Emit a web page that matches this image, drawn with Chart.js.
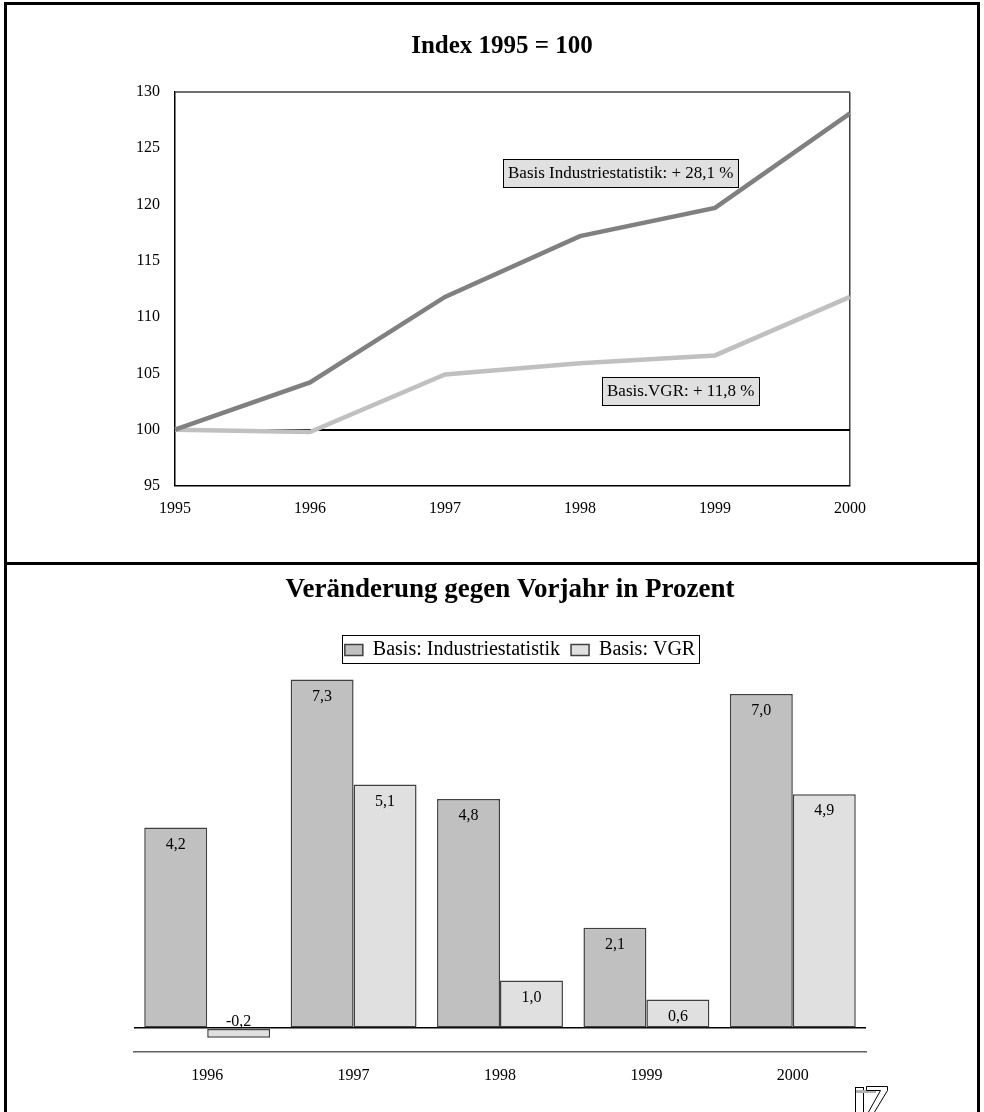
<!DOCTYPE html>
<html>
<head>
<meta charset="utf-8">
<script src="https://cdn.jsdelivr.net/npm/chart.js@4.4.1/dist/chart.umd.min.js"></script>
<style>
  html, body { margin: 0; padding: 0; background: #fff; }
  #page { position: relative; width: 984px; height: 1112px; overflow: hidden; }
  canvas { position: absolute; left: 0; }
  #topChart { top: 0; }
  #bottomChart { top: 564px; }
  .frame { position: absolute; background: #000; }
  #logo { position: absolute; left: 852px; top: 1084px; }
</style>
</head>
<body>
<div id="page">
  <canvas id="topChart" width="984" height="563"></canvas>
  <canvas id="bottomChart" width="984" height="548"></canvas>
  <div class="frame" style="left:4px; top:2px; width:976px; height:3px;"></div>
  <div class="frame" style="left:4px; top:2px; width:3px; height:1110px;"></div>
  <div class="frame" style="left:977px; top:2px; width:3px; height:1110px;"></div>
  <div class="frame" style="left:4px; top:562px; width:976px; height:3px;"></div>
  <svg id="logo" width="40" height="28" viewBox="0 0 40 28">
    <rect x="3.5" y="3.5" width="8" height="25" fill="none" stroke="#000" stroke-width="1"/>
    <rect x="4" y="6" width="20" height="3" fill="#b0b0b0"/>
    <polyline points="14.5,2.5 35.5,2.5 35.5,6.5 22.5,28" fill="none" stroke="#000" stroke-width="1"/>
    <polyline points="14.5,2.5 14.5,6.5 28.5,6.5 16.5,28" fill="none" stroke="#000" stroke-width="1"/>
  </svg>
</div>
<script>
// Index series, 1995 = 100
const years = ['1995', '1996', '1997', '1998', '1999', '2000'];
const indexIndustrie = [100, 104.2, 111.8, 117.2, 119.7, 128.1];
const indexVGR = [100, 99.8, 104.9, 105.9, 106.6, 111.8];
const indexTicks = [95, 100, 105, 110, 115, 120, 125, 130];

// Year-on-year change in percent
const changeYears = ['1996', '1997', '1998', '1999', '2000'];
const changeIndustrie = [4.2, 7.3, 4.8, 2.1, 7.0];
const changeVGR = [-0.2, 5.1, 1.0, 0.6, 4.9];

// Callout texts on the index chart
const calloutTexts = ['Basis Industriestatistik: + 28,1 %', 'Basis.VGR: + 11,8 %'];

const SERIF = "'Liberation Serif', 'Times New Roman', serif";
const fmt = v => v.toFixed(1).replace('.', ',');

// Heading drawn at a fixed centre point of the canvas
const headingPlugin = {
  id: 'heading',
  afterDraw(chart, args, opts) {
    const { ctx } = chart;
    ctx.save();
    ctx.font = 'bold ' + opts.size + 'px ' + SERIF;
    ctx.fillStyle = '#000';
    ctx.textAlign = 'center';
    ctx.textBaseline = 'middle';
    ctx.fillText(opts.text, opts.cx, opts.cy);
    ctx.restore();
  }
};

// Boxed callouts anchored in data coordinates (category index, value)
const calloutPlugin = {
  id: 'callouts',
  afterDatasetsDraw(chart, args, opts) {
    const { ctx, scales } = chart;
    ctx.save();
    ctx.font = '17px ' + SERIF;
    ctx.textBaseline = 'middle';
    ctx.textAlign = 'left';
    opts.items.forEach(item => {
      const x = Math.round(scales.x.getPixelForValue(item.x));
      const y = Math.round(scales.y.getPixelForValue(item.y));
      const w = Math.round(ctx.measureText(item.text).width + item.padX * 2);
      const h = 28;
      ctx.fillStyle = '#e0e0e0';
      ctx.fillRect(x, y, w, h);
      ctx.strokeStyle = '#000';
      ctx.lineWidth = 1;
      ctx.strokeRect(x + 0.5, y + 0.5, w, h);
      ctx.fillStyle = '#000';
      ctx.fillText(item.text, x + item.padX, y + h / 2 + 1);
    });
    ctx.restore();
  }
};

new Chart(document.getElementById('topChart'), {
  type: 'line',
  data: {
    labels: years,
    datasets: [
      { label: 'Basis Industriestatistik', data: indexIndustrie, borderColor: '#808080', borderWidth: 4.5, pointRadius: 0, tension: 0, fill: false },
      { label: 'Basis VGR', data: indexVGR, borderColor: '#c0c0c0', borderWidth: 4.5, pointRadius: 0, tension: 0, fill: false }
    ]
  },
  options: {
    responsive: false,
    animation: false,
    layout: { padding: { left: 100, right: 134, top: 92, bottom: 37 } },
    plugins: {
      legend: { display: false },
      tooltip: { enabled: false },
      title: { display: false },
      heading: { text: 'Index 1995 = 100', size: 25, cx: 502, cy: 47 },
      callouts: {
        items: [
          { text: calloutTexts[0], x: 2.43, y: 124.05, padX: 5 },
          { text: calloutTexts[1], x: 3.16, y: 104.7, padX: 5 }
        ]
      }
    },
    scales: {
      x: {
        offset: false,
        afterFit: s => { s.height = 40; },
        border: { display: true, color: '#000', width: 1.5 },
        grid: {
          drawTicks: false,
          color: c => c.index === years.length - 1 ? '#404040' : 'rgba(0,0,0,0)',
          lineWidth: 1.5
        },
        ticks: { color: '#000', font: { family: SERIF, size: 16 }, padding: 13, maxRotation: 0 }
      },
      y: {
        min: 95, max: 130,
        afterFit: s => { s.width = 75; },
        afterBuildTicks: s => { s.ticks = indexTicks.map(v => ({ value: v })); },
        border: { display: true, color: '#000', width: 1.5 },
        grid: {
          drawTicks: false,
          color: c => c.tick.value === 100 ? '#000' : (c.tick.value === 130 ? '#707070' : 'rgba(0,0,0,0)'),
          lineWidth: c => (c.tick.value === 100 || c.tick.value === 130) ? 2 : 0
        },
        ticks: { color: '#000', font: { family: SERIF, size: 16 }, padding: 15 }
      }
    }
  },
  plugins: [headingPlugin, calloutPlugin]
});

// Value labels inside the bar tops; the negative one sits just above the zero line
const barLabelPlugin = {
  id: 'barLabels',
  afterDatasetsDraw(chart) {
    const { ctx } = chart;
    ctx.save();
    ctx.font = '16px ' + SERIF;
    ctx.fillStyle = '#000';
    ctx.textAlign = 'center';
    ctx.textBaseline = 'middle';
    chart.data.datasets.forEach((ds, di) => {
      chart.getDatasetMeta(di).data.forEach((el, i) => {
        const v = ds.data[i];
        const y = v >= 0 ? el.y + 17 : el.base - 7;
        ctx.fillText(fmt(v), el.x, y);
      });
    });
    ctx.restore();
  }
};

// Frame around the legend row
const legendBoxPlugin = {
  id: 'legendBox',
  afterDraw(chart) {
    const lg = chart.legend;
    if (!lg || !lg.legendHitBoxes || !lg.legendHitBoxes.length) return;
    const boxes = lg.legendHitBoxes;
    const l = Math.min(...boxes.map(b => b.left)) - 3;
    const r = Math.max(...boxes.map(b => b.left + b.width)) + 4;
    const t = Math.min(...boxes.map(b => b.top)) - 5;
    const btm = Math.max(...boxes.map(b => b.top + b.height)) + 3;
    const { ctx } = chart;
    ctx.save();
    ctx.strokeStyle = '#000';
    ctx.lineWidth = 1;
    ctx.strokeRect(Math.round(l) + 0.5, Math.round(t) + 0.5, Math.round(r - l), Math.round(btm - t));
    ctx.restore();
  }
};

new Chart(document.getElementById('bottomChart'), {
  type: 'bar',
  data: {
    labels: changeYears,
    datasets: [
      { label: 'Basis: Industriestatistik', data: changeIndustrie, backgroundColor: '#c0c0c0', borderColor: '#404040', borderWidth: 1.5, borderSkipped: false },
      { label: 'Basis: VGR', data: changeVGR, backgroundColor: '#e0e0e0', borderColor: '#404040', borderWidth: 1.5, borderSkipped: false }
    ]
  },
  options: {
    responsive: false,
    animation: false,
    categoryPercentage: 0.86,
    barPercentage: 1.0,
    layout: { padding: { left: 134, right: 78, top: 65, bottom: 20 } },
    plugins: {
      tooltip: { enabled: false },
      title: { display: false },
      heading: { text: 'Veränderung gegen Vorjahr in Prozent', size: 27, cx: 510, cy: 26 },
      legend: {
        display: true,
        position: 'top',
        labels: {
          color: '#000',
          font: { family: SERIF, size: 20 },
          boxWidth: 18,
          boxHeight: 11,
          padding: 11
        }
      }
    },
    scales: {
      x: {
        afterFit: s => { s.height = 40; },
        border: { display: true, color: '#606060', width: 1.5 },
        grid: { display: false, drawTicks: false },
        ticks: { color: '#000', font: { family: SERIF, size: 16 }, padding: 14 }
      },
      y: {
        min: -0.5, max: 7.5,
        afterFit: s => { s.width = 0; },
        border: { display: false },
        grid: {
          drawTicks: false,
          color: c => c.tick.value === 0 ? '#000' : 'rgba(0,0,0,0)',
          lineWidth: c => c.tick.value === 0 ? 1.5 : 0
        },
        ticks: { display: false, stepSize: 0.5 }
      },
      // empty right-hand strip that keeps the legend centred like the heading
      spacer: {
        type: 'linear',
        position: 'right',
        display: true,
        afterFit: s => { s.width = 40; },
        border: { display: false },
        grid: { display: false, drawTicks: false },
        ticks: { display: false }
      }
    }
  },
  plugins: [headingPlugin, barLabelPlugin, legendBoxPlugin]
});
</script>
</body>
</html>
